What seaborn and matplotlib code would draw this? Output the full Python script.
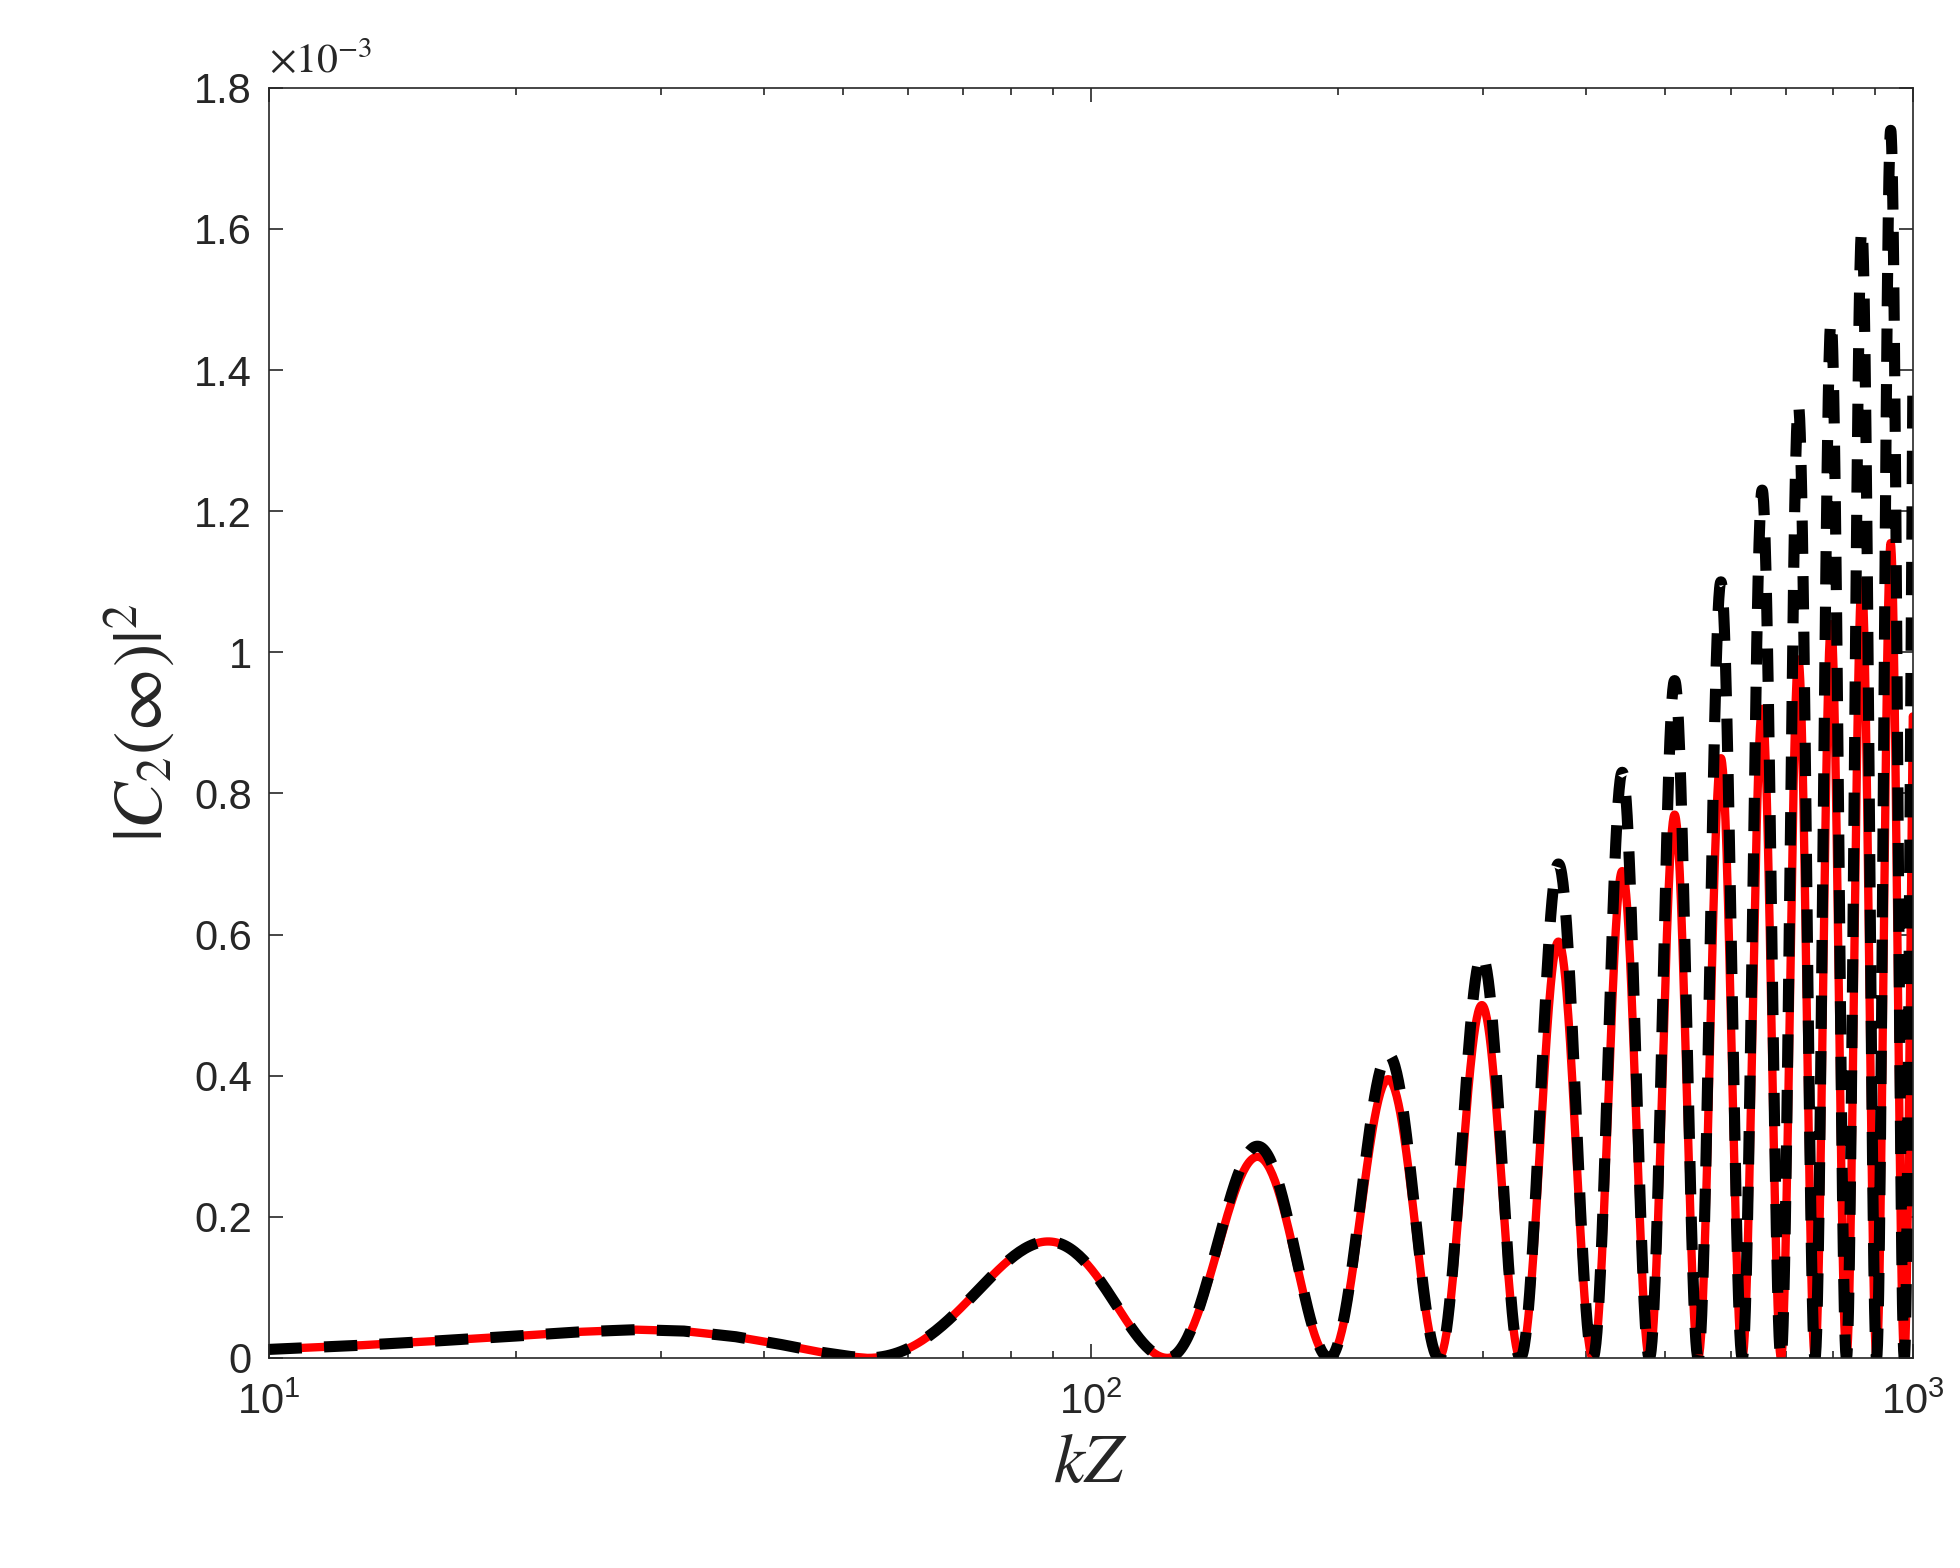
import numpy as np
import pandas as pd
import matplotlib.pyplot as plt
import seaborn as sns

# values, in units of 1e-3
head_kz = [10, 13, 16, 20, 24, 28, 32, 37, 42, 47, 51]
head_val = [0.012, 0.018, 0.024, 0.031, 0.037, 0.040, 0.038, 0.030, 0.019, 0.008, 0.002]
zeros_kz = [53.5, 124, 195, 265, 333, 408, 478, 548, 620, 691, 760, 830, 903, 976, 1046]
peak_red = [0.165, 0.285, 0.395, 0.50, 0.59, 0.69, 0.77, 0.85, 0.92, 0.99, 1.04, 1.10, 1.155, 1.20]
peak_black = [0.165, 0.30, 0.43, 0.57, 0.70, 0.83, 0.96, 1.10, 1.23, 1.35, 1.47, 1.60, 1.74, 1.80]
ytick_vals = [0, 0.2, 0.4, 0.6, 0.8, 1, 1.2, 1.4, 1.6, 1.8]


def build(peaks):
    xs, ys = list(head_kz), list(head_val)
    for z0, z1, p in zip(zeros_kz[:-1], zeros_kz[1:], peaks):
        t = np.linspace(0, 1, 120)
        x = z0 + (z1 - z0) * t
        y = p * np.sin(np.pi * t) ** 2
        keep = x <= 1000
        xs += list(x[keep]); ys += list(y[keep])
    return pd.DataFrame({"kZ": xs, "C2": ys})


red = build(peak_red)
black = build(peak_black)

sns.set_style("ticks")
plt.rcParams['font.family'] = ['Liberation Sans', 'DejaVu Sans']
plt.rcParams['mathtext.fontset'] = 'stix'
fig = plt.figure(figsize=(19.6, 15.68), dpi=100)
ax = fig.add_axes([0.137, 0.134, 0.839, 0.81])

sns.lineplot(data=red, x="kZ", y="C2", ax=ax, color="red", lw=6, sort=False)
sns.lineplot(data=black, x="kZ", y="C2", ax=ax, color="black", lw=8, sort=False,
             dashes=False, linestyle=(0, (3, 2)))

ax.set_xscale("log")
ax.set_xlim(10, 1000)
ax.set_ylim(0, 1.8)
ax.set_yticks(ytick_vals)
ax.set_yticklabels([f"{v:g}" for v in ytick_vals])
ax.tick_params(direction="in", which="both", top=True, right=True, labelsize=30, length=10, width=1.2)
ax.tick_params(which="minor", length=5)
ax.tick_params(axis="x", pad=18)
ax.tick_params(axis="y", pad=12)
for s in ax.spines.values():
    s.set_linewidth(1.2)
ax.set_xlabel("$kZ$", fontsize=50, labelpad=6)
ax.set_ylabel(r"$|C_2(\infty)|^2$", fontsize=50, labelpad=12)
ax.text(0.0, 1.005, r"$\times10^{-3}$", transform=ax.transAxes, fontsize=30,
        ha="left", va="bottom")

fig.savefig("out.png")
